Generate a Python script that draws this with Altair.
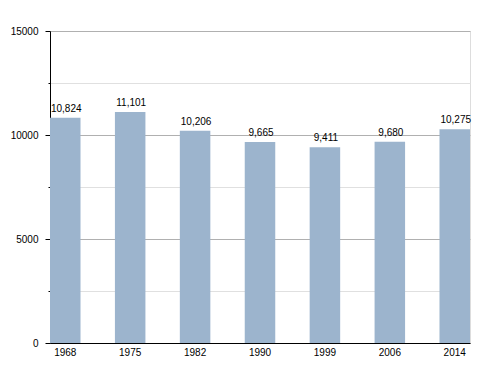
import altair as alt
import pandas as pd

years = ["1968", "1975", "1982", "1990", "1999", "2006", "2014"]
population = [10824, 11101, 10206, 9665, 9411, 9680, 10275]
y_ticks = [0, 2500, 5000, 7500, 10000, 12500, 15000]

df = pd.DataFrame({"year": years, "pop": population})
df["label"] = [f"{v:,}" for v in population]

font = "Liberation Sans"

x = alt.X("year:N", sort=years, title=None,
          scale=alt.Scale(paddingInner=0.53, paddingOuter=0),
          axis=alt.Axis(labelAngle=0, ticks=False, domainColor="black",
                        labelColor="black", labelFontSize=10, labelFont=font,
                        labelPadding=4))
y = alt.Y("pop:Q", title=None,
          scale=alt.Scale(domain=[0, 15000], nice=False),
          axis=alt.Axis(values=y_ticks, domainColor="black",
                        labelExpr="datum.value % 5000 === 0 ? datum.value : ''",
                        labelColor="black", labelFontSize=10, labelFont=font,
                        tickColor="black",
                        tickSize={"condition": {"test": "datum.value % 5000 === 0", "value": 5}, "value": 2},
                        gridColor={"condition": {"test": "datum.value % 5000 === 0", "value": "#b0b0b0"}, "value": "#e0e0e0"},
                        labelPadding=7))

bars = alt.Chart(df).mark_bar(color="#9cb4cd").encode(x=x, y=y)
text = alt.Chart(df).mark_text(dy=-9, dx=1, fontSize=10, font=font, color="black").encode(
    x=alt.X("year:N", sort=years), y="pop:Q", text="label:N")

chart = alt.layer(bars, text).properties(
    width=420, height=312,
    autosize=alt.AutoSizeParams(type="none"),
    padding={"left": 42, "top": 23, "right": 10, "bottom": 20},
).configure_view(stroke=None).configure(background="white")

chart.save("out.html", embed_options={"renderer": "svg", "actions": False})
